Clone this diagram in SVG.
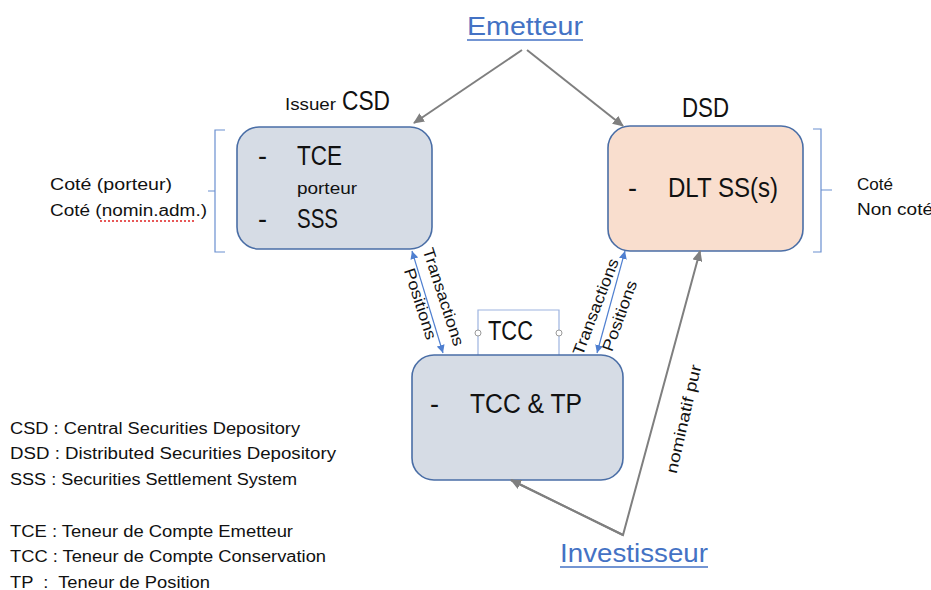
<svg xmlns="http://www.w3.org/2000/svg" width="931" height="590" viewBox="0 0 931 590">
<style>
text{font-family:"Liberation Sans",Arial,sans-serif;fill:#111}
.box{stroke:#4a6ea6;stroke-width:1.6}
.csd{fill:#d6dce5}
.dsd{fill:#f9dece}
.tcc{fill:#d6dce5}
.grey{stroke:#7f7f7f;stroke-width:2;fill:none}
.blue{stroke:#4f7fd0;stroke-width:1.2;fill:none}
.brk{stroke:#6a8fd0;stroke-width:1.2;fill:none}
.big{font-size:27px}
.lbl{font-size:16px}
.link{fill:#4472c4;font-size:26px}
.leg{font-size:16px}
</style>
<defs>
<marker id="ag" markerUnits="userSpaceOnUse" markerWidth="12" markerHeight="10" refX="10" refY="5" orient="auto">
<path d="M0,0 L11,5 L0,10 Z" fill="#7f7f7f"/>
</marker>
<marker id="ab" markerUnits="userSpaceOnUse" markerWidth="9" markerHeight="8" refX="8" refY="4" orient="auto-start-reverse">
<path d="M0,0 L8,4 L0,8 Z" fill="#4f7fd0"/>
</marker>
</defs>

<g id="emetteur">
<text class="link" x="525" y="35" text-anchor="middle" textLength="116" lengthAdjust="spacingAndGlyphs">Emetteur</text>
<line x1="467" y1="40" x2="583" y2="40" stroke="#4472c4" stroke-width="1.5"/>
</g>

<g id="investisseur">
<text class="link" x="634" y="562" text-anchor="middle" textLength="148" lengthAdjust="spacingAndGlyphs">Investisseur</text>
<line x1="560" y1="567" x2="708" y2="567" stroke="#4472c4" stroke-width="1.5"/>
</g>

<g id="csd">
<text class="lbl" x="285" y="110" textLength="51" lengthAdjust="spacingAndGlyphs">Issuer</text>
<text class="big" x="342" y="110" textLength="48" lengthAdjust="spacingAndGlyphs">CSD</text>
<rect class="box csd" x="237" y="127" width="195" height="122" rx="22"/>
<text class="big" x="258" y="165">-</text>
<text class="big" x="297" y="165" textLength="45" lengthAdjust="spacingAndGlyphs">TCE</text>
<text x="297" y="194" font-size="16" textLength="60" lengthAdjust="spacingAndGlyphs">porteur</text>
<text class="big" x="258" y="228">-</text>
<text class="big" x="297" y="228" textLength="41" lengthAdjust="spacingAndGlyphs">SSS</text>
<path class="brk" d="M225,130 H215 V252 H225 M215,191 H208"/>
<text class="lbl" x="50" y="190" textLength="122" lengthAdjust="spacingAndGlyphs">Coté (porteur)</text>
<text class="lbl" x="50" y="216" textLength="157" lengthAdjust="spacingAndGlyphs">Coté (nomin.adm.)</text>
<line x1="100" y1="221" x2="195" y2="221" stroke="#e02020" stroke-width="1.5" stroke-dasharray="2,2"/>
</g>

<g id="dsd">
<text class="big" x="682" y="117" textLength="47" lengthAdjust="spacingAndGlyphs">DSD</text>
<rect class="box dsd" x="608" y="126" width="195" height="125" rx="22"/>
<text class="big" x="628" y="197">-</text>
<text class="big" x="668" y="197" textLength="110" lengthAdjust="spacingAndGlyphs">DLT SS(s)</text>
<path class="brk" d="M813,129 H821 V252 H813 M821,190 H832"/>
<text class="lbl" x="857" y="190" textLength="36" lengthAdjust="spacingAndGlyphs">Coté</text>
<text class="lbl" x="857" y="215" textLength="76" lengthAdjust="spacingAndGlyphs">Non coté</text>
</g>

<g id="tcc">
<path d="M478,355 V310 H559 V355" stroke="#9db4e0" stroke-width="1.2" fill="none"/>
<circle cx="478" cy="333" r="3" fill="#fff" stroke="#9a9a9a" stroke-width="1"/>
<circle cx="559" cy="333" r="3" fill="#fff" stroke="#9a9a9a" stroke-width="1"/>
<text class="big" x="488" y="340" textLength="45" lengthAdjust="spacingAndGlyphs">TCC</text>
<rect class="box tcc" x="412" y="355" width="211" height="125" rx="22"/>
<text class="big" x="430" y="413">-</text>
<text class="big" x="470" y="413" textLength="112" lengthAdjust="spacingAndGlyphs">TCC &amp; TP</text>
</g>

<g id="connectors">
<line class="grey" x1="522" y1="50" x2="414" y2="123" marker-end="url(#ag)"/>
<line class="grey" x1="527" y1="50" x2="623" y2="126" marker-end="url(#ag)"/>
<polyline class="grey" points="511,480 623,535 700,251" marker-end="url(#ag)"/>
<line class="grey" x1="623" y1="535" x2="511" y2="480" marker-end="url(#ag)"/>
<line class="blue" x1="412" y1="251" x2="443" y2="353" marker-start="url(#ab)" marker-end="url(#ab)"/>
<line class="blue" x1="625" y1="251" x2="597" y2="353" marker-start="url(#ab)" marker-end="url(#ab)"/>
<text class="lbl" transform="translate(443,297) rotate(72)" text-anchor="middle" y="5" textLength="102" lengthAdjust="spacingAndGlyphs">Transactions</text>
<text class="lbl" transform="translate(420,304) rotate(72)" text-anchor="middle" y="5" textLength="74" lengthAdjust="spacingAndGlyphs">Positions</text>
<text class="lbl" transform="translate(596,307) rotate(-69)" text-anchor="middle" y="5" textLength="102" lengthAdjust="spacingAndGlyphs">Transactions</text>
<text class="lbl" transform="translate(620,316) rotate(-70)" text-anchor="middle" y="5" textLength="74" lengthAdjust="spacingAndGlyphs">Positions</text>
<text class="lbl" transform="translate(684,419) rotate(-77)" text-anchor="middle" y="5" textLength="111" lengthAdjust="spacingAndGlyphs">nominatif pur</text>
</g>

<g id="legend">
<text class="leg" x="10" y="434" textLength="290" lengthAdjust="spacingAndGlyphs">CSD : Central Securities Depository</text>
<text class="leg" x="10" y="459" textLength="326" lengthAdjust="spacingAndGlyphs">DSD : Distributed Securities Depository</text>
<text class="leg" x="10" y="485" textLength="287" lengthAdjust="spacingAndGlyphs">SSS : Securities Settlement System</text>
<text class="leg" x="10" y="537" textLength="283" lengthAdjust="spacingAndGlyphs">TCE : Teneur de Compte Emetteur</text>
<text class="leg" x="10" y="562" textLength="316" lengthAdjust="spacingAndGlyphs">TCC : Teneur de Compte Conservation</text>
<text class="leg" x="10" y="588" xml:space="preserve" textLength="200" lengthAdjust="spacingAndGlyphs">TP  :  Teneur de Position</text>
</g>
</svg>
